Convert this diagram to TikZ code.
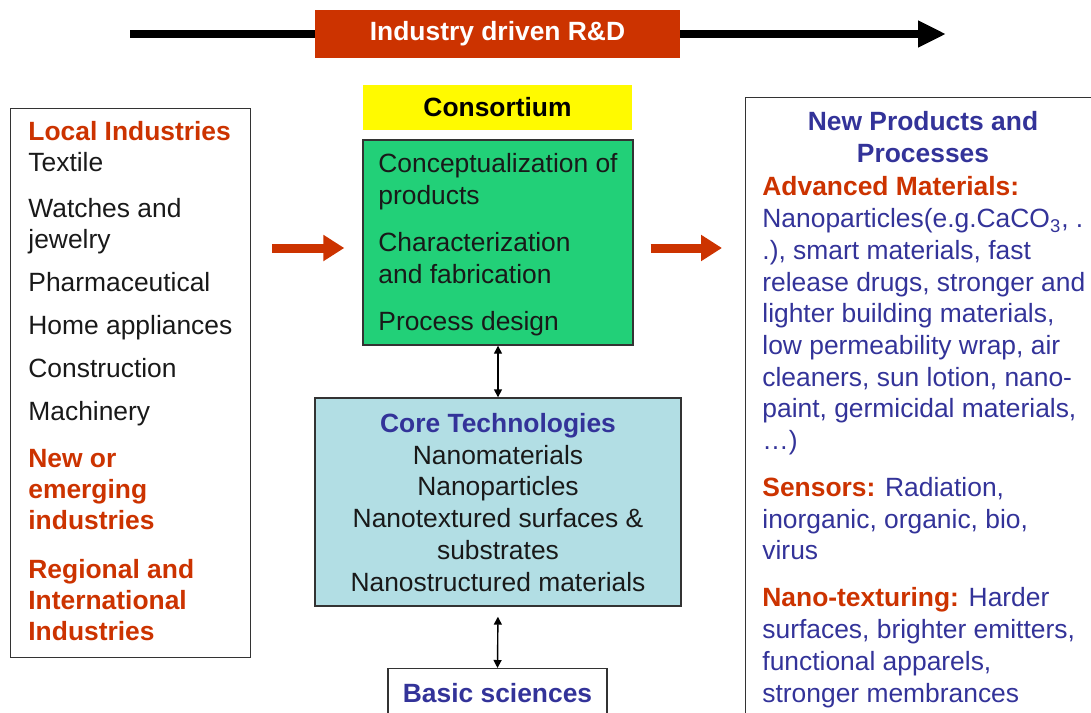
\documentclass[tikz,border=0pt]{standalone}
\usepackage{fontspec}
\setmainfont{Liberation Sans}
\usetikzlibrary{positioning, arrows.meta}

\definecolor{rdred}{RGB}{204,51,0}
\definecolor{consyellow}{RGB}{255,250,0}
\definecolor{consgreen}{RGB}{34,208,120}
\definecolor{corecyan}{RGB}{178,222,228}
\definecolor{txtblue}{RGB}{51,51,153}

\tikzset{
  box/.style={draw=black!80, line width=0.7pt, inner sep=0pt},
  txt/.style={inner sep=0pt, text=black!90, font=\fontsize{13.2}{15.85}\selectfont, align=left},
  bigarrow/.style={rdred, line width=4.5pt, -{Triangle[length=10.5pt, width=12.5pt]}},
  twoway/.style={line width=0.7pt, {Triangle[length=4pt, width=4pt]}-{Triangle[length=4pt, width=4pt]}}
}

\begin{document}
\begin{tikzpicture}[x=0.5pt, y=-0.5pt]
  \useasboundingbox (0,0) rectangle (1091,712);
  \clip (0,0) rectangle (1091,712);

  % top banner
  \node[fill=rdred, text=white, font=\fontsize{13.2}{15.85}\selectfont\bfseries,
        minimum width=182.5pt, minimum height=24pt, inner sep=0pt] (rd) at (497.5,34) {Industry driven R\&D};
  \coordinate (topL) at (130,34);
  \coordinate (topR) at (946,34);
  \draw[line width=4pt] (topL) -- (rd.west);
  \draw[line width=4pt, -{Triangle[length=14pt, width=12.5pt]}] (rd.east) -- (topR);

  % boxes
  \node[box, anchor=north west, minimum width=120pt, minimum height=274.5pt] (left) at (10,108) {};
  \node[fill=consyellow, inner sep=0pt, font=\fontsize{13.2}{15.85}\selectfont\bfseries,
        minimum width=134.5pt, minimum height=22.5pt] (cons) at (497.5,107.5) {Consortium};
  \node[box, fill=consgreen, minimum width=135pt, minimum height=102.5pt] (green) at (498,242.5) {};
  \node[box, fill=corecyan, minimum width=183pt, minimum height=104pt] (core) at (498,502) {};
  \node[box, anchor=north, text=txtblue, font=\fontsize{13.2}{15.85}\selectfont\bfseries,
        minimum width=109.5pt, text height=17pt, text depth=30pt] (basic) at (497.5,668) {Basic sciences};
  \node[box, anchor=north west, minimum width=190pt, minimum height=325pt] (right) at (745,97) {};

  % texts (anchored on the baseline of their last line)
  \node[txt, anchor=base west, font=\fontsize{13.2}{15.5}\selectfont] (lefttxt) at (28,640)
    {\textcolor{rdred}{\bfseries Local Industries}\\
     Textile\\[7.5pt]
     Watches and\\ jewelry\\[6pt]
     Pharmaceutical\\[6pt]
     Home appliances\\[6pt]
     Construction\\[6pt]
     Machinery\\[8pt]
     \textcolor{rdred}{\bfseries New or}\\ \textcolor{rdred}{\bfseries emerging}\\ \textcolor{rdred}{\bfseries industries}\\[9pt]
     \textcolor{rdred}{\bfseries Regional and}\\ \textcolor{rdred}{\bfseries International}\\ \textcolor{rdred}{\bfseries Industries}};
  \node[txt, anchor=base west] (greentxt) at (378,330)
    {Conceptualization of\\ products\\[7.6pt]
     Characterization\\ and fabrication\\[7.6pt]
     Process design};
  \node[txt, align=center, anchor=base] (coretxt) at (498,591)
    {\textcolor{txtblue}{\bfseries Core Technologies}\\
     Nanomaterials\\ Nanoparticles\\ Nanotextured surfaces \&\\ substrates\\ Nanostructured materials};
  \node[txt, align=center, anchor=base, text=txtblue, font=\fontsize{13.2}{15.85}\selectfont\bfseries] (rtitle) at (923,162)
    {New Products and\\ Processes};
  \node[txt, anchor=base west, text=txtblue] (righttxt) at (762,702)
    {\textcolor{rdred}{\bfseries Advanced Materials:}\\
     Nanoparticles(e.g.CaCO\textsubscript{3}, .\\
     .), smart materials, fast\\
     release drugs, stronger and\\
     lighter building materials,\\
     low permeability wrap, air\\
     cleaners, sun lotion, nano-\\
     paint, germicidal materials,\\
     \dots)\\[7.65pt]
     \textcolor{rdred}{\bfseries Sensors:} Radiation,\\
     inorganic, organic, bio,\\
     virus\\[7.65pt]
     \textcolor{rdred}{\bfseries Nano-texturing:} Harder\\
     surfaces, brighter emitters,\\
     functional apparels,\\
     stronger membrances};

  % arrows
  \coordinate (midL) at ([yshift=-2.75pt]green.west);
  \coordinate (midR) at ([yshift=-2.75pt]green.east);
  \draw[bigarrow, shorten <=10.5pt, shorten >=9pt] (midL -| left.east) -- (midL);
  \draw[bigarrow, shorten <=8.5pt, shorten >=11.5pt] (midR) -- (midR -| right.west);
  \draw[twoway] (green.south) -- (core.north);
  \draw[twoway, shorten <=5pt] (core.south) -- (basic.north);
\end{tikzpicture}
\end{document}
